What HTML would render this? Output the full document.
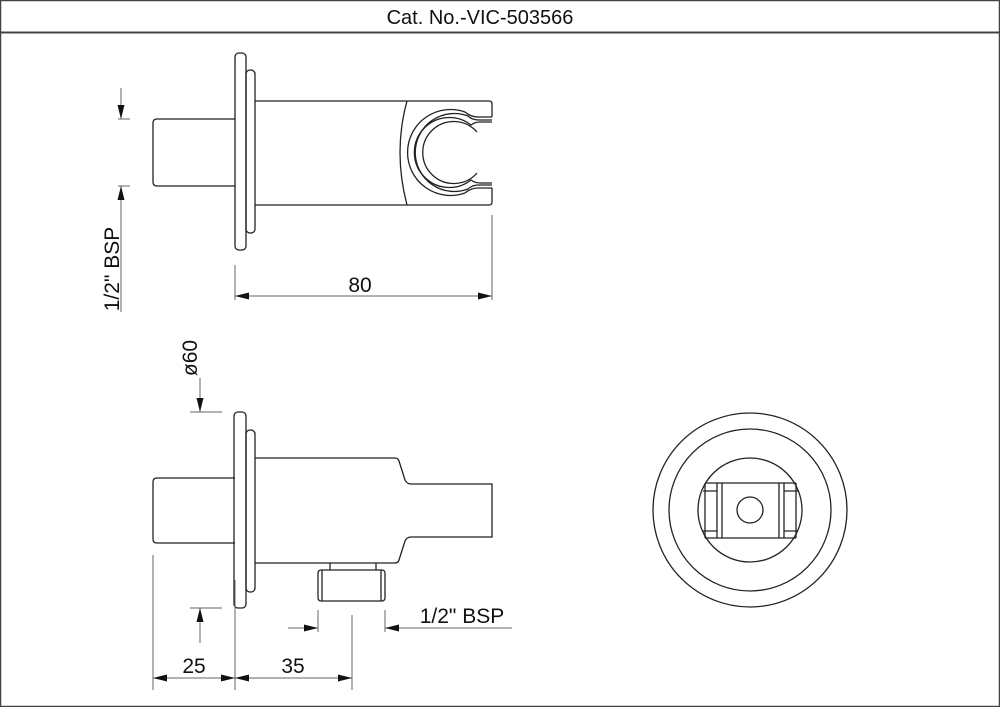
<!DOCTYPE html>
<html><head><style>
html,body{margin:0;padding:0;background:#fff;}
svg{display:block;}
text{font-family:"Liberation Sans",Arial,sans-serif;fill:#111;}
</style></head><body>
<svg width="1000" height="707" viewBox="0 0 1000 707" xmlns="http://www.w3.org/2000/svg">
<defs>
<marker id="a" viewBox="0 0 12 6" refX="12" refY="3" markerWidth="14" markerHeight="7" orient="auto" markerUnits="userSpaceOnUse"><path d="M0,0 L12,3 L0,6 z" fill="#111"/></marker>
</defs>
<rect x="0.5" y="0.5" width="999" height="706" fill="none" stroke="#444" stroke-width="1.5"/>
<line x1="0" y1="32.5" x2="1000" y2="32.5" stroke="#444" stroke-width="2"/>
<text x="480" y="24" font-size="20" text-anchor="middle">Cat. No.-VIC-503566</text>

<g fill="none" stroke="#222" stroke-width="1.3">
<rect x="235" y="53" width="11" height="197" rx="4"/>
<rect x="246" y="70" width="9" height="163" rx="4"/>
<path d="M157,119 L235,119 M157,186 L235,186 M157,119 Q153,119 153,123 L153,182 Q153,186 157,186"/>
<path d="M255,101 L489,101 Q492,101 492,104 L492,117 M492,188 L492,202 Q492,205 489,205 L255,205"/>
<path d="M407,101 Q393,152 407,205"/>
<path d="M492,117 L478,117 Q471,117 465,112 A43 43 0 1 0 465,193 Q471,188 478,188 L492,188"/>
<path d="M492,120 L479,120 Q472,120 468,116 A39 39 0 1 0 468,189 Q472,185 479,185 L492,185"/>
<path d="M492,122 L480,122 Q475,122 471,125 A35 35 0 1 0 471,180 Q475,183 480,183 L492,183"/>
<path d="M477,132 A31 31 0 1 0 477,173"/>

<rect x="234" y="412" width="12" height="196" rx="4"/>
<rect x="246" y="430" width="9" height="162" rx="4"/>
<path d="M157,478 L235,478 M157,543 L235,543 M157,478 Q153,478 153,482 L153,539 Q153,543 157,543"/>
<path d="M255,458 L395,458 Q398,458 399,461 L405,480 Q407,484 411,484 L492,484 L492,537 L411,537 Q407,537 405,541 L399,560 Q398,563 395,563 L255,563"/>
<path d="M330,563 L330,570 M376,563 L376,570"/>
<rect x="318" y="570" width="67" height="31" rx="3"/>
<path d="M322,570 L322,601 M381,570 L381,601"/>

<circle cx="750" cy="510" r="97"/>
<circle cx="750" cy="510" r="81"/>
<circle cx="750" cy="510" r="52"/>
<circle cx="750" cy="510" r="13"/>
<path d="M705,483 L796,483 M705,538 L796,538"/>
<path d="M717,483 L717,538 M722,483 L722,538 M779,483 L779,538 M784,483 L784,538"/>
<path d="M705,483 L705,538 M796,483 L796,538"/>
<path d="M703,491 L717,491 M703,531 L717,531 M784,491 L798,491 M784,531 L798,531"/>
</g>

<g stroke="#666" stroke-width="1" fill="none">
<line x1="118" y1="119" x2="130" y2="119"/>
<line x1="118" y1="186" x2="130" y2="186"/>
<line x1="121" y1="88" x2="121" y2="119" marker-end="url(#a)"/>
<line x1="121" y1="312" x2="121" y2="186" marker-end="url(#a)"/>
<line x1="235" y1="265" x2="235" y2="300"/>
<line x1="492" y1="215" x2="492" y2="300"/>
<line x1="300" y1="296" x2="235" y2="296" marker-end="url(#a)"/>
<line x1="300" y1="296" x2="492" y2="296" marker-end="url(#a)"/>

<line x1="200" y1="378" x2="200" y2="412" marker-end="url(#a)"/>
<line x1="190" y1="412" x2="222" y2="412"/>
<line x1="190" y1="608" x2="222" y2="608"/>
<line x1="200" y1="643" x2="200" y2="608" marker-end="url(#a)"/>
<line x1="153" y1="555" x2="153" y2="690"/>
<line x1="235" y1="580" x2="235" y2="690"/>
<line x1="352" y1="615" x2="352" y2="690"/>
<line x1="194" y1="678" x2="153" y2="678" marker-end="url(#a)"/>
<line x1="194" y1="678" x2="235" y2="678" marker-end="url(#a)"/>
<line x1="293" y1="678" x2="235" y2="678" marker-end="url(#a)"/>
<line x1="293" y1="678" x2="352" y2="678" marker-end="url(#a)"/>
<line x1="318" y1="610" x2="318" y2="632"/>
<line x1="385" y1="610" x2="385" y2="632"/>
<line x1="288" y1="628" x2="318" y2="628" marker-end="url(#a)"/>
<line x1="512" y1="628" x2="385" y2="628" marker-end="url(#a)"/>
</g>
<text x="360" y="292" font-size="21" text-anchor="middle">80</text>
<text transform="translate(119,269) rotate(-90)" font-size="21" text-anchor="middle">1/2" BSP</text>
<text transform="translate(197,358) rotate(-90)" font-size="21" text-anchor="middle">ø60</text>
<text x="194" y="673" font-size="21" text-anchor="middle">25</text>
<text x="293" y="673" font-size="21" text-anchor="middle">35</text>
<text x="462" y="623" font-size="21" text-anchor="middle">1/2" BSP</text>
</svg>
</body></html>
